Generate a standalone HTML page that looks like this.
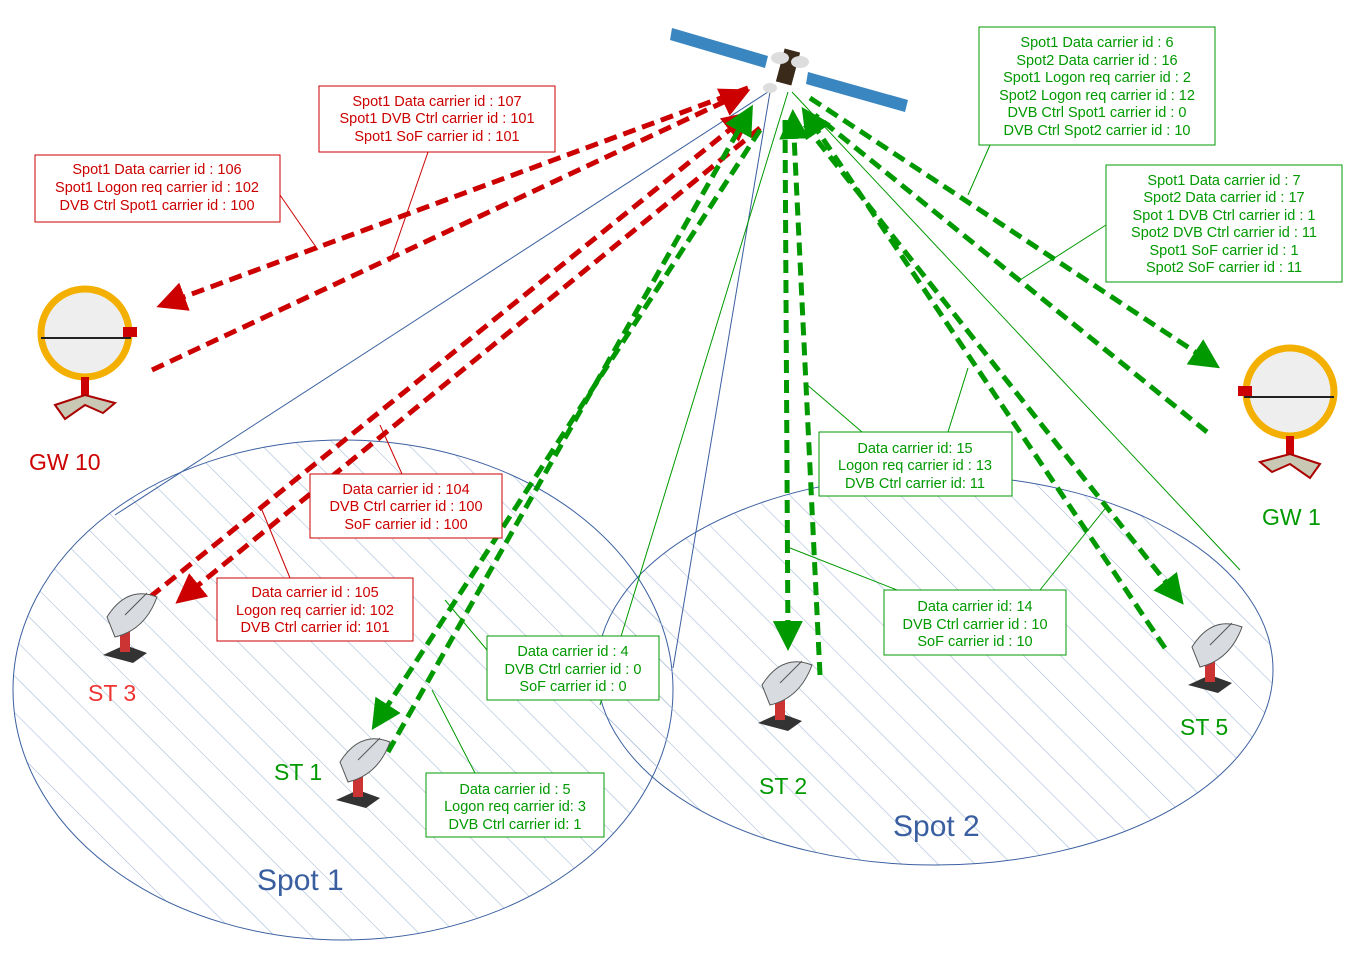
<!DOCTYPE html>
<html><head><meta charset="utf-8"><style>
body{margin:0;background:#fff}
svg text{font-family:"Liberation Sans",sans-serif}
</style></head><body>
<svg width="1353" height="970" viewBox="0 0 1353 970" xmlns="http://www.w3.org/2000/svg">
<defs>
<pattern id="h" width="26" height="26" patternUnits="userSpaceOnUse" patternTransform="rotate(-45)">
<line x1="0" y1="0" x2="0" y2="26" stroke="#a8bcd8" stroke-width="1.2"/>
</pattern>
<marker id="ar" viewBox="0 0 10 10" refX="8" refY="5" markerWidth="6" markerHeight="6" orient="auto"><path d="M0,0L10,5L0,10z" fill="#cc0000"/></marker>
<marker id="ag" viewBox="0 0 10 10" refX="8" refY="5" markerWidth="6" markerHeight="6" orient="auto"><path d="M0,0L10,5L0,10z" fill="#009900"/></marker>
<g id="dish">
<path d="M-22,30 L0,20 L22,28 L8,38 Z" fill="#333"/>
<rect x="-5" y="5" width="10" height="22" fill="#c33"/>
<path d="M-18,-8 Q2,-40 32,-28 Q20,5 -10,12 Z" fill="#d8dce0" stroke="#555"/>
<line x1="0" y1="-10" x2="22" y2="-32" stroke="#555"/>
</g>
<g id="gw">
<ellipse cx="0" cy="0" rx="44" ry="44" fill="#eee" stroke="#f4b000" stroke-width="7"/>
<line x1="-44" y1="5" x2="46" y2="5" stroke="#222" stroke-width="2"/>
<rect x="38" y="-6" width="14" height="10" fill="#c00"/>
<rect x="-4" y="44" width="8" height="22" fill="#c00"/>
<path d="M-30,72 L0,62 L30,70 L18,80 L0,72 L-20,86 Z" fill="#c8c8b4" stroke="#a00" stroke-width="2"/>
</g>
</defs>

<ellipse cx="343" cy="690" rx="330" ry="250" fill="url(#h)" stroke="#3a5fa0" stroke-width="1"/>
<ellipse cx="935" cy="670" rx="338" ry="195" fill="url(#h)" stroke="#3a5fa0" stroke-width="1"/>

<g stroke-width="1" fill="none">
<line x1="768" y1="92" x2="115" y2="515" stroke="#3a5fa0"/>
<line x1="770" y1="92" x2="673" y2="668" stroke="#3a5fa0"/>
<line x1="788" y1="92" x2="600" y2="705" stroke="#009900"/>
<line x1="792" y1="92" x2="1240" y2="570" stroke="#009900"/>
</g>

<g>
<polygon points="672,28 768,56 765,68 670,40" fill="#3a86c0"/>
<polygon points="808,72 908,100 905,112 806,84" fill="#3a86c0"/>
<rect x="780" y="50" width="16" height="34" fill="#3a2a1a" transform="rotate(15 788 67)"/>
<ellipse cx="780" cy="58" rx="9" ry="6" fill="#ddd"/>
<ellipse cx="800" cy="62" rx="9" ry="6" fill="#ddd"/>
<ellipse cx="770" cy="88" rx="7" ry="5" fill="#ddd"/>
</g>

<g stroke="#cc0000" stroke-width="5" stroke-dasharray="13 7" fill="none">
<line x1="748" y1="88" x2="162" y2="305" marker-end="url(#ar)"/>
<line x1="152" y1="370" x2="745" y2="92" marker-end="url(#ar)"/>
<line x1="150" y1="597" x2="748" y2="115" marker-end="url(#ar)"/>
<line x1="760" y1="128" x2="180" y2="600" marker-end="url(#ar)"/>
</g>
<g stroke="#009900" stroke-width="5" stroke-dasharray="13 7" fill="none">
<line x1="760" y1="130" x2="375" y2="725" marker-end="url(#ag)"/>
<line x1="388" y1="752" x2="750" y2="110" marker-end="url(#ag)"/>
<line x1="785" y1="120" x2="788" y2="645" marker-end="url(#ag)"/>
<line x1="820" y1="675" x2="793" y2="115" marker-end="url(#ag)"/>
<line x1="805" y1="125" x2="1180" y2="600" marker-end="url(#ag)"/>
<line x1="1165" y1="648" x2="805" y2="112" marker-end="url(#ag)"/>
<line x1="810" y1="98" x2="1215" y2="365" marker-end="url(#ag)"/>
<line x1="1207" y1="432" x2="815" y2="115"/>
</g>

<g stroke="#cc0000" stroke-width="1">
<line x1="280" y1="195" x2="318" y2="250"/>
<line x1="428" y1="152" x2="390" y2="262"/>
<line x1="402" y1="474" x2="380" y2="425"/>
<line x1="290" y1="578" x2="262" y2="510"/>
</g>
<g stroke="#009900" stroke-width="1">
<line x1="990" y1="145" x2="968" y2="195"/>
<line x1="1106" y1="225" x2="1020" y2="280"/>
<line x1="862" y1="432" x2="805" y2="383"/>
<line x1="948" y1="432" x2="968" y2="368"/>
<line x1="897" y1="590" x2="790" y2="548"/>
<line x1="1040" y1="590" x2="1108" y2="505"/>
<line x1="487" y1="650" x2="445" y2="600"/>
<line x1="475" y1="773" x2="432" y2="690"/>
</g>

<g fill="#fff" stroke-width="1">
<rect x="35" y="155" width="245" height="67" stroke="#cc0000"/>
<rect x="319" y="86" width="236" height="66" stroke="#cc0000"/>
<rect x="310" y="474" width="192" height="64" stroke="#cc0000"/>
<rect x="217" y="578" width="196" height="63" stroke="#cc0000"/>
<rect x="979" y="27" width="236" height="118" stroke="#009900"/>
<rect x="1106" y="165" width="236" height="117" stroke="#009900"/>
<rect x="819" y="432" width="193" height="64" stroke="#009900"/>
<rect x="884" y="590" width="182" height="65" stroke="#009900"/>
<rect x="487" y="636" width="172" height="64" stroke="#009900"/>
<rect x="426" y="773" width="178" height="64" stroke="#009900"/>
</g>
<g font-size="14.5" text-anchor="middle" fill="#cc0000">
<text x="157" y="174">Spot1 Data carrier id : 106</text>
<text x="157" y="192">Spot1 Logon req carrier id : 102</text>
<text x="157" y="210">DVB Ctrl Spot1 carrier id : 100</text>
<text x="437" y="106">Spot1 Data carrier id : 107</text>
<text x="437" y="123">Spot1 DVB Ctrl carrier id : 101</text>
<text x="437" y="141">Spot1 SoF carrier id : 101</text>
<text x="406" y="494">Data carrier id : 104</text>
<text x="406" y="511">DVB Ctrl carrier id : 100</text>
<text x="406" y="529">SoF carrier id : 100</text>
<text x="315" y="597">Data carrier id : 105</text>
<text x="315" y="615">Logon req carrier id: 102</text>
<text x="315" y="632">DVB Ctrl carrier id: 101</text>
</g>
<g font-size="14.5" text-anchor="middle" fill="#009900">
<text x="1097" y="47">Spot1 Data carrier id : 6</text>
<text x="1097" y="65">Spot2 Data carrier id : 16</text>
<text x="1097" y="82">Spot1 Logon req carrier id : 2</text>
<text x="1097" y="100">Spot2 Logon req carrier id : 12</text>
<text x="1097" y="117">DVB Ctrl Spot1 carrier id : 0</text>
<text x="1097" y="135">DVB Ctrl Spot2 carrier id : 10</text>
<text x="1224" y="185">Spot1 Data carrier id : 7</text>
<text x="1224" y="202">Spot2 Data carrier id : 17</text>
<text x="1224" y="220">Spot 1 DVB Ctrl carrier id : 1</text>
<text x="1224" y="237">Spot2 DVB Ctrl carrier id : 11</text>
<text x="1224" y="255">Spot1 SoF carrier id : 1</text>
<text x="1224" y="272">Spot2 SoF carrier id : 11</text>
<text x="915" y="453">Data carrier id: 15</text>
<text x="915" y="470">Logon req carrier id : 13</text>
<text x="915" y="488">DVB Ctrl carrier id: 11</text>
<text x="975" y="611">Data carrier id: 14</text>
<text x="975" y="629">DVB Ctrl carrier id : 10</text>
<text x="975" y="646">SoF carrier id : 10</text>
<text x="573" y="656">Data carrier id : 4</text>
<text x="573" y="674">DVB Ctrl carrier id : 0</text>
<text x="573" y="691">SoF carrier id : 0</text>
<text x="515" y="794">Data carrier id : 5</text>
<text x="515" y="811">Logon req carrier id: 3</text>
<text x="515" y="829">DVB Ctrl carrier id: 1</text>
</g>

<use href="#gw" transform="translate(85,333)"/>
<g transform="translate(1290,392) scale(-1,1)"><use href="#gw"/></g>
<use href="#dish" transform="translate(125,625)"/>
<use href="#dish" transform="translate(358,770)"/>
<use href="#dish" transform="translate(780,693)"/>
<use href="#dish" transform="translate(1210,655)"/>

<g font-size="23">
<text x="29" y="470" fill="#cc0000">GW 10</text>
<text x="1262" y="525" fill="#009900">GW 1</text>
<text x="88" y="701" fill="#ee3333">ST 3</text>
<text x="274" y="780" fill="#009900">ST 1</text>
<text x="759" y="794" fill="#009900">ST 2</text>
<text x="1180" y="735" fill="#009900">ST 5</text>
</g>
<g font-size="30" fill="#3a5fa0">
<text x="257" y="890">Spot 1</text>
<text x="893" y="836">Spot 2</text>
</g>
</svg>
</body></html>
